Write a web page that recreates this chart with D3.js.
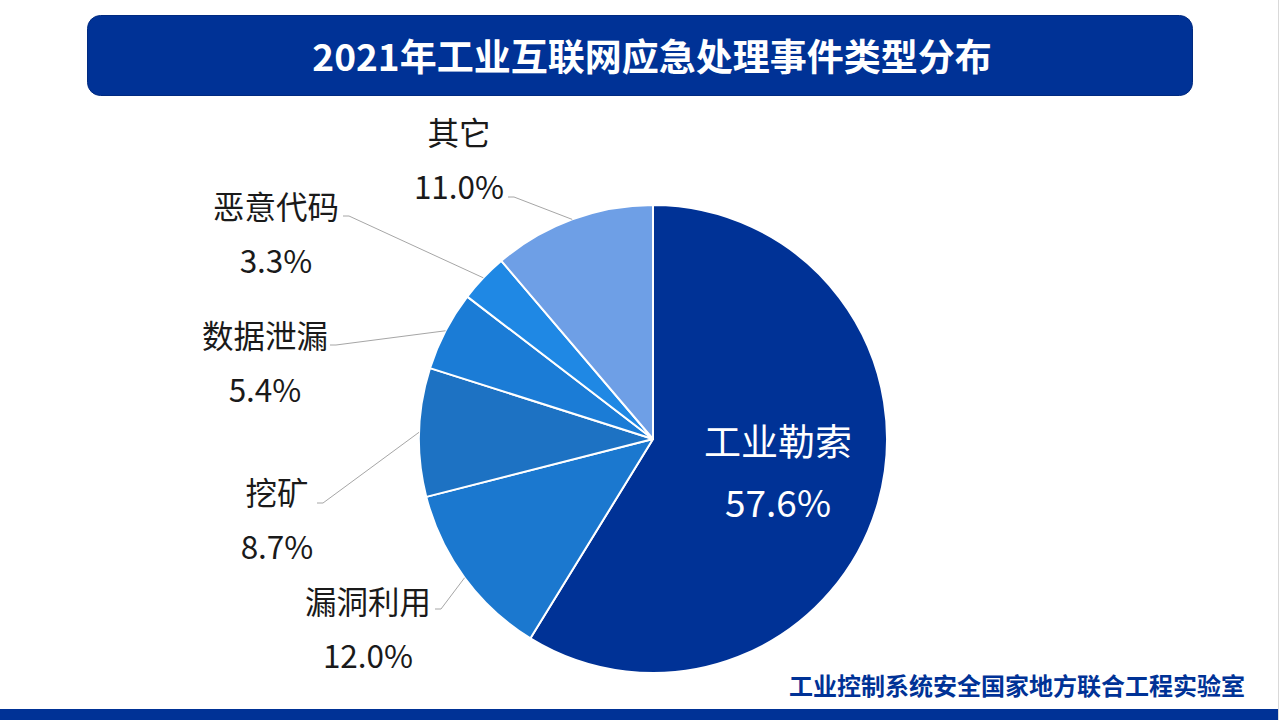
<!DOCTYPE html>
<html>
<head>
<meta charset="utf-8">
<script src="https://cdn.jsdelivr.net/npm/d3@7/dist/d3.min.js"></script>
<style>
html,body{margin:0;padding:0;background:#fff;}
svg{display:block;}
text{font-family:"Noto Sans CJK SC","Noto Sans",sans-serif;}
</style>
</head>
<body>
<svg id="chart" width="1280" height="720"></svg>
<script>
// ---- data ----
const titleText = "2021年工业互联网应急处理事件类型分布";
const footerText = "工业控制系统安全国家地方联合工程实验室";
const categories = ["工业勒索", "漏洞利用", "挖矿", "数据泄漏", "恶意代码", "其它"];
const values = [57.6, 12.0, 8.7, 5.4, 3.3, 11.0];
const colors = ["#003296", "#1b78cf", "#1d72c3", "#1b7cd6", "#1f88e4", "#6e9fe6"];

// ---- layout (label placement, not data) ----
const labelLayout = [
  {inside: true, x: 778, y: 440},
  {x: 368, y: 600, lx: 435, ly: 609},
  {x: 277, y: 491, lx: 317, ly: 503},
  {x: 265, y: 334, lx: 330, ly: 345},
  {x: 276, y: 205, lx: 343, ly: 216},
  {x: 459, y: 131, lx: 508, ly: 197}
];

const svg = d3.select("#chart");
const W = 1280, H = 720;

// slide border on the right
svg.append("line").attr("x1", W - 1.5).attr("x2", W - 1.5).attr("y1", 0).attr("y2", H)
  .attr("stroke", "#d9d9d9").attr("stroke-width", 1);

// title bar
svg.append("rect").attr("x", 87.5).attr("y", 15.5).attr("width", 1105).attr("height", 80)
  .attr("rx", 13).attr("ry", 13).attr("fill", "#003296").attr("stroke", "#002a80").attr("stroke-width", 1);
svg.append("text").attr("x", 652).attr("y", 55).attr("text-anchor", "middle")
  .attr("dominant-baseline", "central").attr("fill", "#fff")
  .attr("font-size", 37).attr("font-weight", "bold").text(titleText);

// bottom bar
svg.append("rect").attr("x", 0).attr("y", 709).attr("width", W - 2).attr("height", 11).attr("fill", "#003296");

// footer
svg.append("text").attr("x", 1245).attr("y", 684).attr("text-anchor", "end")
  .attr("dominant-baseline", "central").attr("fill", "#003296")
  .attr("font-size", 24).attr("font-weight", "bold").text(footerText);

// pie
const cx = 653, cy = 439, R = 234;
const rows = categories.map((c, i) => ({name: c, value: values[i], color: colors[i], layout: labelLayout[i]}));
const pie = d3.pie().sort(null).value(d => d.value).startAngle(0).endAngle(2 * Math.PI);
const arcs = pie(rows);
const arc = d3.arc().innerRadius(0).outerRadius(R);
const edgeArc = d3.arc().innerRadius(R).outerRadius(R);

const g = svg.append("g").attr("transform", `translate(${cx},${cy})`);
g.selectAll("path.slice").data(arcs).join("path").attr("class", "slice")
  .attr("d", arc).attr("fill", d => d.data.color)
  .attr("stroke", "#fff").attr("stroke-width", 2).attr("stroke-linejoin", "round");

// leader lines
const lineData = arcs.filter(d => !d.data.layout.inside);
svg.selectAll("path.leader").data(lineData).join("path").attr("class", "leader")
  .attr("d", d => {
    const L = d.data.layout;
    const [mx, my] = edgeArc.centroid(d);
    return `M${L.lx},${L.ly}L${L.lx + 6},${L.ly}L${cx + mx},${cy + my}`;
  })
  .attr("fill", "none").attr("stroke", "#a6a6a6").attr("stroke-width", 1);

// labels
const fmt = d3.format(".1f");
const lab = svg.selectAll("g.lab").data(arcs).join("g").attr("class", "lab");
lab.append("text")
  .attr("x", d => d.data.layout.x).attr("y", d => d.data.layout.y)
  .attr("text-anchor", "middle").attr("dominant-baseline", "central")
  .attr("font-size", d => d.data.layout.inside ? 37 : 31.5)
  .attr("fill", d => d.data.layout.inside ? "#fff" : "#1a1a1a")
  .text(d => d.data.name);
lab.append("text")
  .attr("x", d => d.data.layout.x).attr("y", d => d.data.layout.y + (d.data.layout.inside ? 61 : 54))
  .attr("text-anchor", "middle").attr("dominant-baseline", "central")
  .attr("font-size", d => d.data.layout.inside ? 37 : 31.5)
  .attr("fill", d => d.data.layout.inside ? "#fff" : "#1a1a1a")
  .text(d => fmt(d.data.value) + "%");
</script>
</body>
</html>
